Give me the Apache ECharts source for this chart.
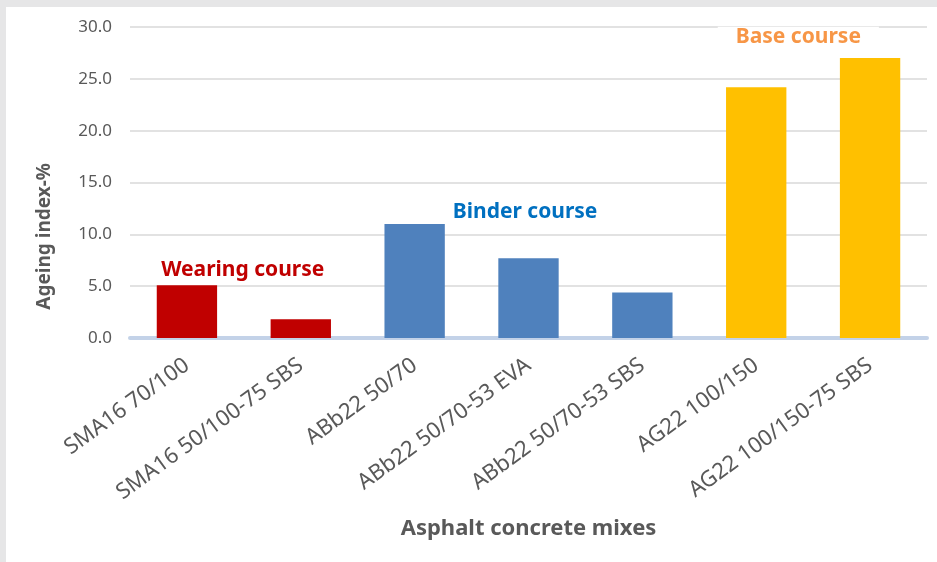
<!DOCTYPE html>
<html>
<head>
<meta charset="utf-8">
<script src="https://cdn.jsdelivr.net/npm/echarts@6/dist/echarts.min.js"></script>
<style>
  html, body { margin: 0; padding: 0; background: #e6e6e7; }
  #container { position: absolute; left: 6px; top: 7px; width: 931px; height: 555px; background: #fff; }
</style>
</head>
<body>
<div id="container"></div>
<script>
  var categories = ['SMA16 70/100', 'SMA16 50/100-75 SBS', 'ABb22 50/70', 'ABb22 50/70-53 EVA',
    'ABb22 50/70-53 SBS', 'AG22 100/150', 'AG22 100/150-75 SBS'];
  var ageingIndex = [5.1, 1.8, 11.0, 7.7, 4.4, 24.2, 27.0];
  var courseOfMix = [0, 0, 1, 1, 1, 2, 2];

  var courseNames = ['Wearing course', 'Binder course', 'Base course'];
  var courseColors = ['#c00000', '#4f81bd', '#ffc000'];
  var courseTextColors = ['#c00000', '#0070c0', '#f79646'];
  // where each course label sits: [category position, value]
  var courseLabelAt = [[0.49, 6.6], [2.97, 12.2], [5.37, 29.0]];

  var font = '"Noto Sans", "DejaVu Sans", sans-serif';

  var chart = echarts.init(document.getElementById('container'), null, { renderer: 'canvas' });

  var option = {
    animation: false,
    grid: { left: 124, right: 10, top: 20, bottom: 224 },
    xAxis: [{
      type: 'category',
      data: categories,
      name: 'Asphalt concrete mixes',
      nameLocation: 'middle',
      nameGap: 180,
      nameTextStyle: { color: '#595959', fontSize: 22, fontWeight: 'bold', fontFamily: font },
      axisLine: { lineStyle: { color: '#c3d2e8', width: 4 } },
      axisTick: { show: false },
      axisLabel: { rotate: 36, interval: 0, color: '#595959', fontSize: 22, fontFamily: font, margin: 25 }
    }, {
      // hidden axis used only to place the course labels between bars
      type: 'value',
      min: -0.5,
      max: 6.5,
      show: false
    }],
    yAxis: {
      type: 'value',
      min: 0,
      max: 30,
      interval: 5,
      axisLine: { show: false },
      axisTick: { show: false },
      axisLabel: {
        color: '#595959', fontSize: 17, fontFamily: font, margin: 18,
        formatter: function (v) { return v.toFixed(1); }
      },
      splitLine: { lineStyle: { color: '#d9d9d9', width: 1.5 } }
    },
    graphic: [{
      type: 'text',
      left: 29,
      top: 156,
      rotation: Math.PI / 2,
      style: {
        text: 'Ageing index-%',
        fill: '#595959',
        font: 'bold 19px ' + font
      }
    }],
    series: [{
      type: 'bar',
      barWidth: '53%',
      data: ageingIndex.map(function (v, i) {
        return { value: v, itemStyle: { color: courseColors[courseOfMix[i]] } };
      })
    }, {
      type: 'scatter',
      xAxisIndex: 1,
      symbolSize: 0,
      silent: true,
      z: 5,
      itemStyle: { opacity: 1 },
      data: courseNames.map(function (name, i) {
        return {
          name: name,
          value: courseLabelAt[i],
          label: {
            show: true,
            position: 'inside',
            formatter: name,
            color: courseTextColors[i],
            opacity: 1,
            fontSize: 21,
            fontWeight: 'bold',
            fontFamily: font,
            backgroundColor: '#fff',
            padding: [0, 18]
          }
        };
      })
    }]
  };

  chart.setOption(option);
  window.addEventListener('resize', function () { chart.resize(); });
</script>
</body>
</html>
